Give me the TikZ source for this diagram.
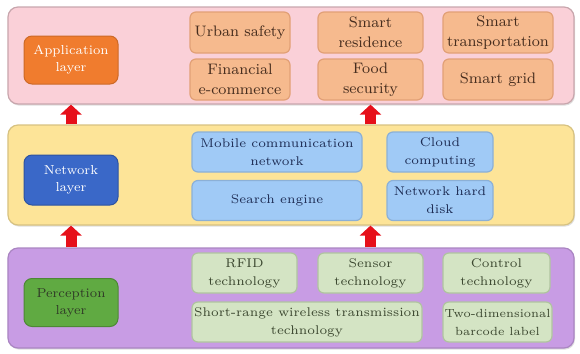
\documentclass[tikz,border=0pt]{standalone}
\usetikzlibrary{arrows.meta,shadows}
\definecolor{appband}{RGB}{250,208,216}
\definecolor{appitem}{RGB}{246,186,142}
\definecolor{appline}{RGB}{226,160,118}
\definecolor{applayer}{RGB}{240,124,46}
\definecolor{apptext}{RGB}{70,45,30}
\definecolor{netband}{RGB}{253,228,152}
\definecolor{netitem}{RGB}{160,202,246}
\definecolor{netline}{RGB}{140,176,214}
\definecolor{netlayer}{RGB}{58,104,200}
\definecolor{nettext}{RGB}{30,45,85}
\definecolor{perband}{RGB}{200,156,228}
\definecolor{peritem}{RGB}{212,228,196}
\definecolor{perline}{RGB}{176,196,160}
\definecolor{perlayer}{RGB}{96,170,66}
\definecolor{pertext}{RGB}{60,72,48}
\definecolor{arrowred}{RGB}{230,16,26}
\begin{document}
\begin{tikzpicture}[x=0.5pt, y=-0.5pt,
    band/.style={rounded corners=5pt, inner sep=0pt, minimum width=283pt,
      line width=0.6pt, drop shadow={shadow xshift=0.5pt, shadow yshift=-0.8pt, opacity=0.25}},
    layerbox/.style={rounded corners=4pt, inner sep=1pt, minimum width=47pt, minimum height=24pt,
      align=center, line width=0.5pt, font=\fontsize{6.5}{8.5}\selectfont},
    item/.style={rounded corners=3pt, inner sep=0.5pt, align=center, minimum height=20pt,
      line width=0.6pt, font=\fontsize{6.3}{9}\selectfont},
    appitem/.style={item, fill=appitem, draw=appline, text=apptext,
      minimum height=20.5pt, font=\fontsize{7.6}{10}\selectfont},
    netitem/.style={item, fill=netitem, draw=netline, text=nettext},
    peritem/.style={item, fill=peritem, draw=perline, text=pertext},
    uparrow/.style={draw=arrowred, line width=5.5pt, -{Triangle[width=10.5pt,length=5pt]}}]
  \useasboundingbox (0,0) rectangle (580,354);
  % the three layers
  \node[band, fill=appband, draw=appband!80!black, minimum height=48.5pt] (appzone) at (291,55.5) {};
  \node[band, fill=netband, draw=netband!85!black, minimum height=50pt] (netzone) at (291,175) {};
  \node[band, fill=perband, draw=perband!85!black, minimum height=50pt] (perzone) at (291,298) {};
  \node[layerbox, fill=applayer, draw=applayer!85!black, text=white] (applayer) at (71,60) {Application\\layer};
  \node[layerbox, fill=netlayer, draw=netlayer!80!black, text=white, minimum height=25pt] (netlayer) at (71,180) {Network\\layer};
  \node[layerbox, fill=perlayer, draw=perlayer!80!black, text=pertext!80!black] (perlayer) at (71,302.5) {Perception\\layer};
  % application layer
  \node[appitem, minimum width=50pt] (urban) at (240,32.5) {Urban safety};
  \node[appitem, minimum width=52.5pt] (residence) at (370.5,32.5) {Smart\\residence};
  \node[appitem, minimum width=55pt] (transport) at (498,32.5) {Smart\\transportation};
  \node[appitem, minimum width=50pt] (finance) at (240,79.5) {Financial\\e-commerce};
  \node[appitem, minimum width=52.5pt] (food) at (370.5,79.5) {Food\\security};
  \node[appitem, minimum width=55pt] (grid) at (498,79.5) {Smart grid};
  % network layer
  \node[netitem, minimum width=85pt] (mobile) at (277,152) {Mobile communication\\network};
  \node[netitem, minimum width=85pt] (search) at (277,200.5) {Search engine};
  \node[netitem, minimum width=53pt] (cloud) at (440,152) {Cloud\\computing};
  \node[netitem, minimum width=53pt] (disk) at (440,200.5) {Network hard\\disk};
  % perception layer
  \node[peritem, minimum width=52.5pt] (rfid) at (244.5,273) {RFID\\technology};
  \node[peritem, minimum width=52.5pt] (sensor) at (370.5,273) {Sensor\\technology};
  \node[peritem, minimum width=53.5pt] (control) at (496.5,273) {Control\\technology};
  \node[peritem, minimum width=115pt] (shortrange) at (307,322) {Short-range wireless transmission\\technology};
  \node[peritem, minimum width=54.5pt, font=\fontsize{5.9}{9}\selectfont] (barcode) at (497.5,322) {Two-dimensional\\barcode label};
  % arrows between layers
  \draw[uparrow] (netzone.north -| applayer) -- (appzone.south -| applayer);
  \draw[uparrow] (netzone.north -| food) -- (appzone.south -| food);
  \draw[uparrow] (perzone.north -| perlayer) -- (netzone.south -| perlayer);
  \draw[uparrow] (perzone.north -| sensor) -- (netzone.south -| sensor);
\end{tikzpicture}
\end{document}
